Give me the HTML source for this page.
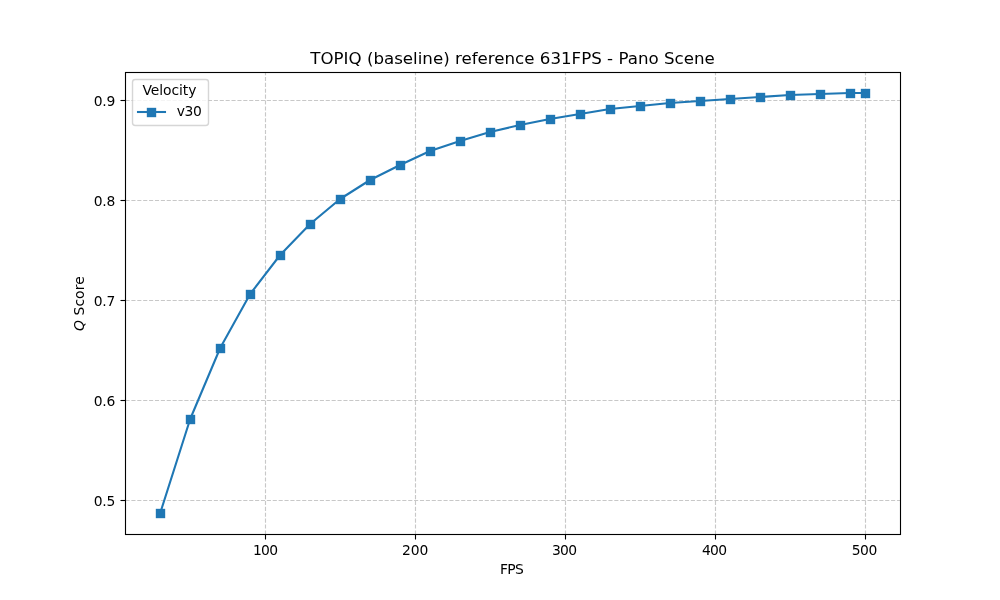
<!DOCTYPE html>
<html lang="en"><head><meta charset="utf-8"><title>TOPIQ (baseline) reference 631FPS - Pano Scene</title>
<style>html,body{margin:0;padding:0;background:#fff;width:1000px;height:600px;overflow:hidden}svg{display:block;position:absolute;left:0;top:0}text{font-family:'DejaVu Sans','Liberation Sans',sans-serif;fill:#000;font-size:13.889px}</style></head><body>
<svg width="1000" height="600" viewBox="0 0 1000 600">
<rect x="0" y="0" width="1000" height="600" fill="#ffffff"/>
<g fill="none" stroke="#b0b0b0" stroke-opacity="0.7" stroke-width="1.111" stroke-dasharray="4.111 1.778">
<path d="M265.5 534.5V72.5"/>
<path d="M415.5 534.5V72.5"/>
<path d="M565.5 534.5V72.5"/>
<path d="M715.5 534.5V72.5"/>
<path d="M865.5 534.5V72.5"/>
<path d="M125.5 500.5H900.5"/>
<path d="M125.5 400.5H900.5"/>
<path d="M125.5 300.5H900.5"/>
<path d="M125.5 200.5H900.5"/>
<path d="M125.5 100.5H900.5"/>
</g>
<g fill="none" stroke="#000" stroke-width="1.111">
<path d="M265.5 534.5V539.5"/>
<path d="M415.5 534.5V539.5"/>
<path d="M565.5 534.5V539.5"/>
<path d="M715.5 534.5V539.5"/>
<path d="M865.5 534.5V539.5"/>
<path d="M125.5 500.5H120.5"/>
<path d="M125.5 400.5H120.5"/>
<path d="M125.5 300.5H120.5"/>
<path d="M125.5 200.5H120.5"/>
<path d="M125.5 100.5H120.5"/>
</g>
<polyline points="160.23,513.0 190.21,419.0 220.19,348.0 250.17,294.0 280.15,255.0 310.13,224.0 340.11,199.0 370.09,180.0 400.07,165.0 430.05,151.0 460.03,141.0 490.01,132.0 520.00,125.0 549.98,119.0 579.96,114.0 609.94,109.0 639.92,106.0 669.90,103.0 699.88,101.0 729.86,99.0 759.84,97.0 789.82,95.0 819.80,94.0 849.78,93.0 864.77,93.0" fill="none" stroke="#1f77b4" stroke-width="2.083" stroke-linejoin="round" stroke-linecap="square"/>
<g fill="#1f77b4">
<rect x="155.81" y="508.81" width="9.38" height="9.38"/>
<rect x="185.81" y="414.81" width="9.38" height="9.38"/>
<rect x="215.81" y="343.81" width="9.38" height="9.38"/>
<rect x="245.81" y="289.81" width="9.38" height="9.38"/>
<rect x="275.81" y="250.81" width="9.38" height="9.38"/>
<rect x="305.81" y="219.81" width="9.38" height="9.38"/>
<rect x="335.81" y="194.81" width="9.38" height="9.38"/>
<rect x="365.81" y="175.81" width="9.38" height="9.38"/>
<rect x="395.81" y="160.81" width="9.38" height="9.38"/>
<rect x="425.81" y="146.81" width="9.38" height="9.38"/>
<rect x="455.81" y="136.81" width="9.38" height="9.38"/>
<rect x="485.81" y="127.81" width="9.38" height="9.38"/>
<rect x="515.81" y="120.81" width="9.38" height="9.38"/>
<rect x="545.81" y="114.81" width="9.38" height="9.38"/>
<rect x="575.81" y="109.81" width="9.38" height="9.38"/>
<rect x="605.81" y="104.81" width="9.38" height="9.38"/>
<rect x="635.81" y="101.81" width="9.38" height="9.38"/>
<rect x="665.81" y="98.81" width="9.38" height="9.38"/>
<rect x="695.81" y="96.81" width="9.38" height="9.38"/>
<rect x="725.81" y="94.81" width="9.38" height="9.38"/>
<rect x="755.81" y="92.81" width="9.38" height="9.38"/>
<rect x="785.81" y="90.81" width="9.38" height="9.38"/>
<rect x="815.81" y="89.81" width="9.38" height="9.38"/>
<rect x="845.81" y="88.81" width="9.38" height="9.38"/>
<rect x="860.81" y="88.81" width="9.38" height="9.38"/>
</g>
<rect x="125.5" y="72.5" width="775" height="462" fill="none" stroke="#000" stroke-width="1.111" stroke-linejoin="miter"/>
<rect x="132.500" y="79.500" width="76.000" height="46.000" rx="2.778" ry="2.778" fill="#fff" stroke="#ccc" stroke-width="1.389" opacity="0.8"/>
<path d="M138 112.0H165" fill="none" stroke="#1f77b4" stroke-width="2.083" stroke-linecap="square"/>
<rect x="146.81" y="107.81" width="9.38" height="9.38" fill="#1f77b4"/>
<g style="filter:grayscale(1)">
<text id="xt100" x="265.160" y="555.276" text-anchor="middle" letter-spacing="-0.700">100</text>
<text id="xt200" x="415.063" y="555.276" text-anchor="middle" letter-spacing="-0.100">200</text>
<text id="xt300" x="564.216" y="555.276" text-anchor="middle" letter-spacing="-0.650">300</text>
<text id="xt400" x="714.219" y="555.276" text-anchor="middle" letter-spacing="-0.600">400</text>
<text id="xt500" x="864.273" y="555.276" text-anchor="middle" letter-spacing="-0.500">500</text>
<text id="yt5" x="115.278" y="506.277" text-anchor="end" letter-spacing="-0.150">0.5</text>
<text id="yt6" x="115.278" y="406.277" text-anchor="end" letter-spacing="-0.150">0.6</text>
<text id="yt7" x="115.278" y="306.277" text-anchor="end" letter-spacing="-0.150">0.7</text>
<text id="yt8" x="115.278" y="206.277" text-anchor="end" letter-spacing="-0.150">0.8</text>
<text id="yt9" x="115.278" y="106.277" text-anchor="end" letter-spacing="-0.150">0.9</text>
<text id="xlabel" x="511.500" y="574.273" text-anchor="middle" letter-spacing="-0.700">FPS</text>
<g transform="translate(84.746 330.292) rotate(-90)"><text id="ylabel" x="-0.700" y="-0.803" letter-spacing="0.080"><tspan font-style="oblique">Q</tspan> Score</text></g>
<text id="title" x="512.500" y="63.667" text-anchor="middle" style="font-size:16.667px">TOPIQ (baseline) reference 631FPS - Pano Scene</text>
<text id="ltitle" x="142.398" y="95.053" letter-spacing="-0.050">Velocity</text>
<text id="ltext" x="176.639" y="116.440" letter-spacing="-0.300">v30</text>
</g>
</svg></body></html>
